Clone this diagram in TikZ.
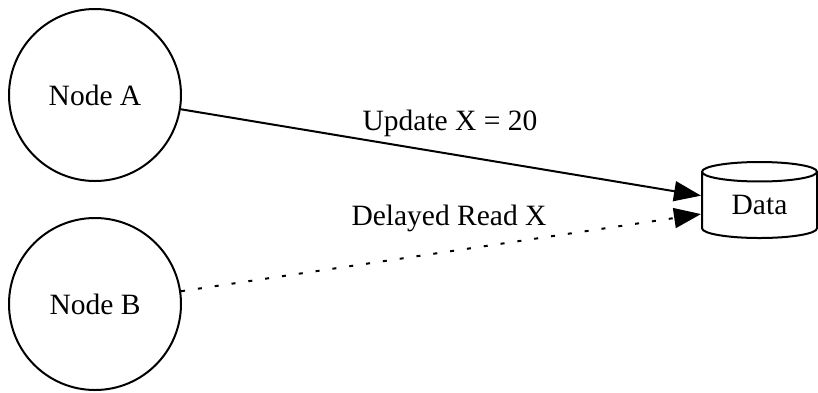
\documentclass[tikz,border=0pt]{standalone}
\usepackage{fontspec}
\setmainfont{Liberation Serif}
\usetikzlibrary{arrows.meta, positioning, shapes.geometric}

\begin{document}
\begin{tikzpicture}[x=1pt, y=-1pt,
    every node/.style={font=\fontsize{29.5}{34}\selectfont},
    peer/.style={circle, draw, line width=2pt, minimum size=172pt, inner sep=0pt},
    store/.style={cylinder, shape border rotate=90, draw, line width=2pt,
                  minimum width=115pt, minimum height=76pt, aspect=0.35, inner sep=0pt},
    flow/.style={line width=2pt, -{Triangle[length=27pt, width=20pt]}}]
  \useasboundingbox (0,0) rectangle (818,392);

  % Nodes
  \node[peer] (nodeA) at (95,95) {Node A};
  \node[peer] (nodeB) at (95,304) {Node B};
  \node[store, anchor=shape center] (data) at (759.5,200) {Data};

  % Edges
  \draw[flow] (nodeA) -- (data);
  \draw[flow, dash pattern=on 4pt off 13pt] (nodeB) -- (data);

  % Edge labels
  \node (lblA) at (450,123) {Update X = 20};
  \node (lblB) at (449,218) {Delayed Read X};
\end{tikzpicture}
\end{document}
